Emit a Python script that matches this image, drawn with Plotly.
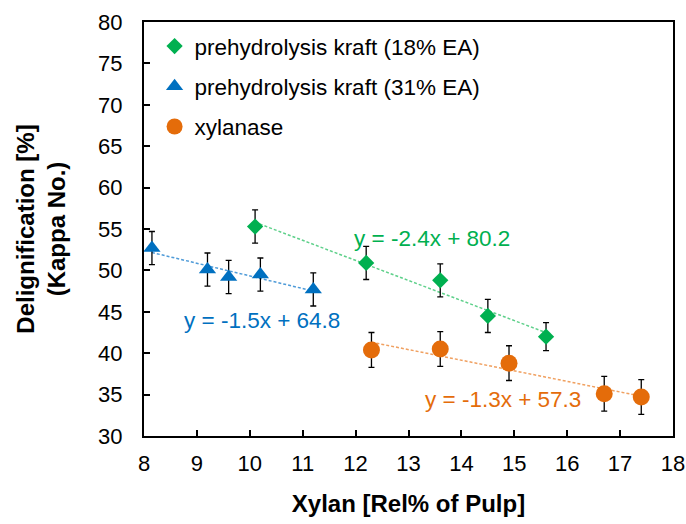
import numpy as np
import plotly.graph_objects as go

# ---- data ----
green_x = [10.1, 12.2, 13.6, 14.5, 15.6]
green_y = [55.3, 50.9, 48.8, 44.5, 42.0]
green_err = [2.0, 2.0, 2.0, 2.0, 1.7]

blue_x = [8.15, 9.2, 9.6, 10.2, 11.2]
blue_y = [52.7, 50.1, 49.2, 49.5, 47.7]
blue_err = [2.0, 2.0, 2.0, 2.0, 2.0]

orange_x = [12.3, 13.6, 14.9, 16.7, 17.4]
orange_y = [40.4, 40.5, 38.8, 35.1, 34.7]
orange_err = [2.1, 2.1, 2.1, 2.1, 2.1]

names = ["prehydrolysis kraft (18% EA)", "prehydrolysis kraft (31% EA)", "xylanase"]
equations = ["y = -2.4x + 80.2", "y = -1.5x + 64.8", "y = -1.3x + 57.3"]

GREEN = "#00B050"
BLUE = "#0070C0"
ORANGE = "#E46C0A"
FONT = "Liberation Sans, Arial, sans-serif"

fig = go.Figure()

series = [
    (green_x, green_y, green_err, GREEN, "#5ED08A", "diamond", 12.5, names[0]),
    (blue_x, blue_y, blue_err, BLUE, "#4F9BD8", "triangle-up", 15, names[1]),
    (orange_x, orange_y, orange_err, ORANGE, "#F0A060", "circle", 17, names[2]),
]

# trendlines (fitted from data)
for xs, ys, _, col, tcol, _, _, nm in series:
    m, b = np.polyfit(xs, ys, 1)
    tx = np.array([min(xs), max(xs)])
    fig.add_trace(go.Scatter(x=tx, y=m * tx + b, mode="lines",
                             line=dict(color=tcol, width=1.5, dash="3px,2px"),
                             showlegend=False, hoverinfo="skip"))

for i, (xs, ys, err, col, tcol, sym, sz, nm) in enumerate(series):
    fig.add_trace(go.Scatter(
        x=xs, y=ys, mode="markers", name=nm, legendgroup=f"g{i}",
        marker=dict(symbol=sym, size=sz, color=col, line=dict(width=0)),
        error_y=dict(type="data", array=err, visible=True, color="black",
                     thickness=1.3, width=3),
    ))

# equation labels
eq_pos = [(13.45, 53.9), (10.23, 43.9), (14.78, 34.35)]
for (ex, ey), txt, col in zip(eq_pos, equations, [GREEN, BLUE, ORANGE]):
    fig.add_annotation(x=ex, y=ey, text=txt, showarrow=False,
                       font=dict(family=FONT, size=22.5, color=col))

fig.update_layout(
    width=686, height=524,
    margin=dict(l=144, r=13, t=22, b=88, autoexpand=False),
    paper_bgcolor="white", plot_bgcolor="white",
    font=dict(family=FONT, size=22, color="black"),
    showlegend=True,
    legend=dict(x=0.02, y=0.993, xanchor="left", yanchor="top",
                font=dict(family=FONT, size=22.5, color="black"),
                bgcolor="rgba(0,0,0,0)", traceorder="grouped",
                tracegroupgap=8, itemwidth=30),
    xaxis=dict(range=[8, 18], dtick=1, showgrid=False, zeroline=False,
               showline=True, mirror=True, linecolor="black", linewidth=2,
               ticks="inside", ticklen=6, tickwidth=1.5, tickcolor="black",
               ticklabelstandoff=7, automargin=False,
               title=dict(text="<b>Xylan [Rel% of Pulp]</b>",
                          font=dict(family=FONT, size=24), standoff=20)),
    yaxis=dict(range=[30, 80], dtick=5, showgrid=False, zeroline=False,
               showline=True, mirror=True, linecolor="black", linewidth=2,
               ticks="inside", ticklen=6, tickwidth=1.5, tickcolor="black",
               ticklabelstandoff=15, automargin=False,
               title=dict(text="<b>Delignification [%]<br>(Kappa No.)</b>",
                          font=dict(family=FONT, size=24), standoff=26)),
)

# remove the default page margin so the figure fills the window exactly
fig.write_html("out.html",
               config={"displayModeBar": False},
               post_script="document.body.style.margin='0';"
                           "document.body.style.overflow='hidden';")
